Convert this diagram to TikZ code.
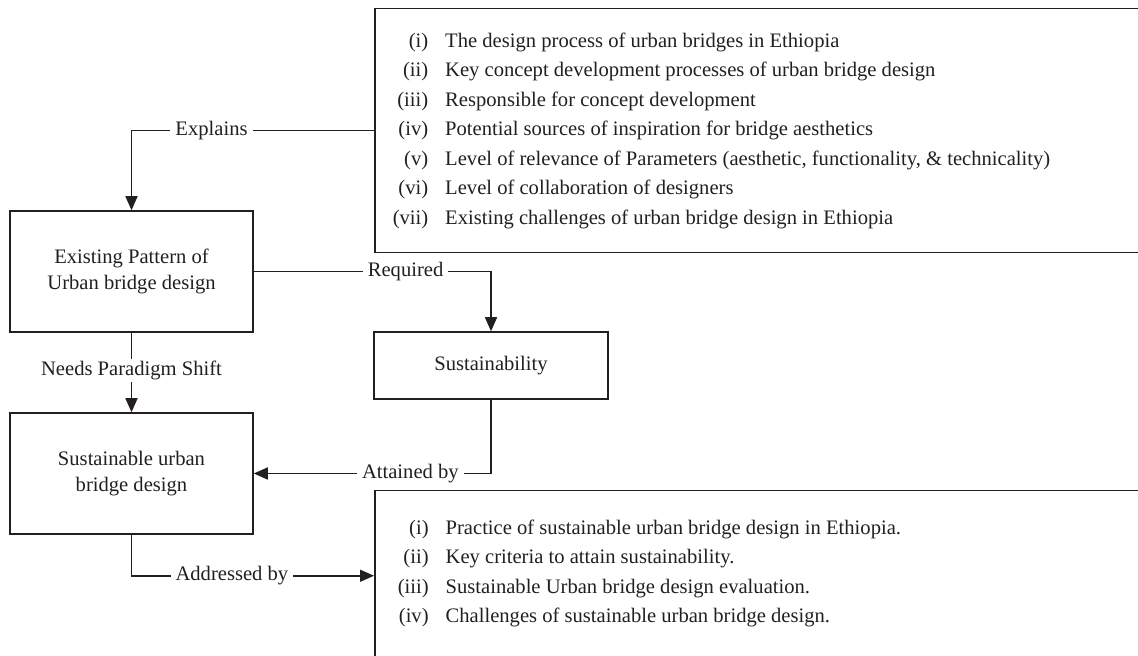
\documentclass[tikz,border=0pt]{standalone}
\usepackage{fontspec}
\setmainfont{Liberation Serif}
\usepackage{xcolor}
\usetikzlibrary{arrows.meta,positioning}
\definecolor{ink}{RGB}{35,31,32}

\begin{document}
\begin{tikzpicture}[x=0.5pt, y=-0.5pt, color=ink, line width=0.75pt,
      every node/.append style={font=\fontsize{10.3}{13}\selectfont, inner sep=0pt},
      box/.style={draw, align=center, minimum width=121.5pt, minimum height=60.5pt},
      frame/.style={draw, minimum width=420pt, anchor=north west},
      list/.style={anchor=north west, font=\fontsize{10.3}{14.75}\selectfont},
      lbl/.style={fill=white, inner xsep=2.5pt, inner ysep=1pt},
      arr/.style={-{Triangle[length=7pt,width=6pt]}}]
    \useasboundingbox (0,0) rectangle (1138,656);
    \node (findings) [frame, minimum height=122pt] at (374,8) {};
    \node (findingslist) [list] at (392,26) {\begin{tabular}{@{}r@{\hspace{8.5pt}}l@{}}
      (i) & The design process of urban bridges in Ethiopia\\
      (ii) & Key concept development processes of urban bridge design\\
      (iii) & Responsible for concept development\\
      (iv) & Potential sources of inspiration for bridge aesthetics\\
      (v) & Level of relevance of Parameters (aesthetic, functionality, \& technicality)\\
      (vi) & Level of collaboration of designers\\
      (vii) & Existing challenges of urban bridge design in Ethiopia
    \end{tabular}};
    \node (existing) [box] at (131.5,271.5) {Existing Pattern of\\Urban bridge design};
    \node (sust) [box, minimum width=117pt, minimum height=33.5pt] at (491,365.5) {Sustainability};
    \node (sustdesign) [box] at (131.5,473.5) {Sustainable urban\\bridge design};
    \node (outcomes) [frame, minimum height=85pt] at (374,490) {};
    \node (outcomeslist) [list] at (397,513) {\begin{tabular}{@{}r@{\hspace{8.5pt}}l@{}}
      (i) & Practice of sustainable urban bridge design in Ethiopia.\\
      (ii) & Key criteria to attain sustainability.\\
      (iii) & Sustainable Urban bridge design evaluation.\\
      (iv) & Challenges of sustainable urban bridge design.
    \end{tabular}};
    \draw[arr] (findings.west) -| node[lbl, pos=0.335] {Explains} (existing.north);
    \draw[arr] (existing.east) -| node[lbl, pos=0.32] {Required} (sust.north);
    \draw[arr] (existing) -- node[lbl, pos=0.48] {Needs Paradigm Shift} (sustdesign);
    \draw[arr] (sust.south) |- node[lbl, pos=0.67] {Attained by} (sustdesign.east);
    \draw[arr] (sustdesign.south) |- node[lbl, pos=0.707] {Addressed by} (outcomes.west);
\end{tikzpicture}
\end{document}
